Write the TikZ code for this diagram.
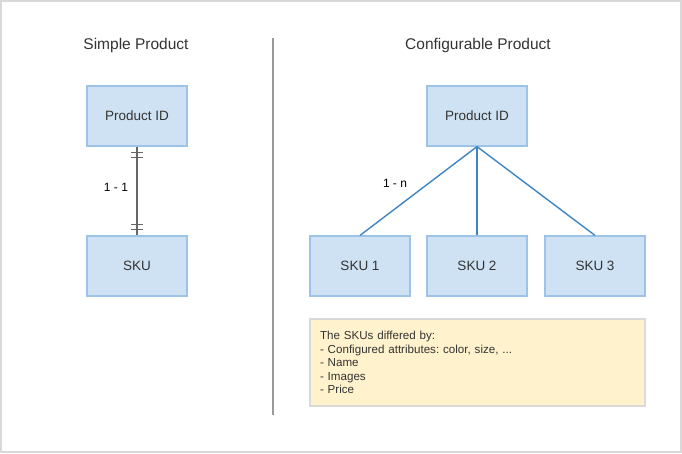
\documentclass[tikz,border=0pt]{standalone}
\usepackage{fontspec}
\setmainfont{Liberation Sans}
\usepackage{tikz}
\usetikzlibrary{positioning}

\definecolor{boxfill}{HTML}{CFE2F3}
\definecolor{boxline}{HTML}{9DC3E6}
\definecolor{notefill}{HTML}{FFF2CC}
\definecolor{frameline}{HTML}{D9D9D9}
\definecolor{linkblue}{HTML}{3D85C6}
\definecolor{textgray}{HTML}{333333}

\tikzset{
  entity/.style={draw=boxline, line width=1.2pt, fill=boxfill, minimum width=100pt,
    minimum height=60pt, inner sep=0pt, font=\fontsize{13.5}{15}\selectfont, text=textgray},
  title/.style={font=\fontsize{15.5}{18}\selectfont, text=textgray},
  link/.style={draw=linkblue, line width=1.4pt},
}

\begin{document}
\frenchspacing
\begin{tikzpicture}[x=1pt, y=-1pt]
        \useasboundingbox (0,0) rectangle (682,453);
        \draw[frameline, line width=1.2pt] (1,1) rectangle (681,452);
        \coordinate (divtop) at (273,38);
        \coordinate (divbot) at (273,415);
        \draw[gray!80, line width=1.2pt] (divtop) -- (divbot);

        \node[title] (simple) at (136,45) {Simple Product};
        \node[title] (config) at (478,45) {Configurable Product};

        \node[entity] (pidA) at (137,116) {Product ID};
        \node[entity] (skuA) at (137,266) {SKU};
        \draw[black!60, line width=1.2pt] (pidA) -- (skuA);
        \foreach \d in {6,11} {
            \draw[black!60, line width=1pt] ([yshift=-\d]pidA.south) +(-6,0) -- +(6,0);
            \draw[black!60, line width=1pt] ([yshift=\d]skuA.north) +(-6,0) -- +(6,0);
        }
        \node[font=\fontsize{12}{14}\selectfont] (oneone) at (116,187) {1 - 1};

        \node[entity] (pidB) at (477,116) {Product ID};
        \node[entity] (skuB) at (360,266) {SKU 1};
        \node[entity] (skuC) at (477,266) {SKU 2};
        \node[entity] (skuD) at (595,266) {SKU 3};
        \draw[link] (pidB.south) -- (skuB.north);
        \draw[link] (pidB.south) -- (skuC.north);
        \draw[link] (pidB.south) -- (skuD.north);
        \node[font=\fontsize{12}{14}\selectfont] (onen) at (395,183) {1 - n};

        \node[draw=frameline, line width=1.2pt, fill=notefill, minimum width=335pt,
          minimum height=87pt, text width=315pt, align=left, inner sep=0pt,
          font=\fontsize{11.6}{13.4}\selectfont, text=textgray] (note) at (477.5,362.5)
          {The SKUs differed by:\\
           - Configured attributes: color, size, ...\\
           - Name\\
           - Images\\
           - Price\\[14pt]};
\end{tikzpicture}
\end{document}
